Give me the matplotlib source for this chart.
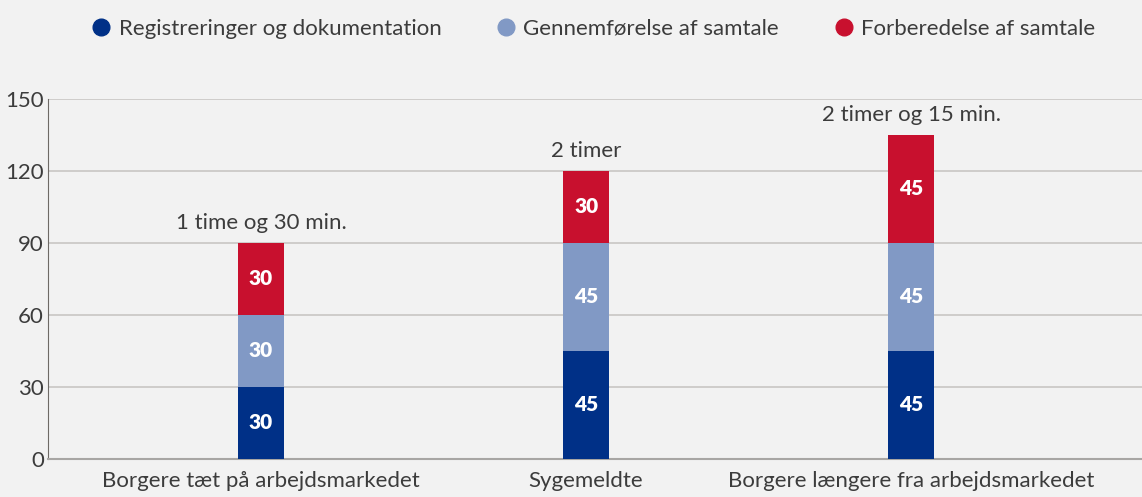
import numpy as np
import matplotlib
matplotlib.use('Agg')
import matplotlib.pyplot as plt
from matplotlib.lines import Line2D

categories = ['Borgere tæt på arbejdsmarkedet', 'Sygemeldte', 'Borgere længere fra arbejdsmarkedet']
series_names = ['Registreringer og dokumentation', 'Gennemførelse af samtale', 'Forberedelse af samtale']
registrering = [30, 45, 45]
gennemfoerelse = [30, 45, 45]
forberedelse = [30, 30, 45]
totals_text = ['1 time og 30 min.', '2 timer', '2 timer og 15 min.']
yticks = [0, 30, 60, 90, 120, 150]

colors = ['#003087', '#8199c5', '#c8102e']
bg = '#f2f2f2'

plt.rcParams['font.family'] = ['Lato', 'DejaVu Sans']

fig = plt.figure(figsize=(11.42, 4.97), dpi=100, facecolor=bg)
ax = fig.add_axes([0.042, 0.0765, 0.958, 0.7243])
ax.set_facecolor(bg)

x = np.arange(len(categories))
width = 0.1415
bottom = np.zeros(len(categories))
for vals, col in zip([registrering, gennemfoerelse, forberedelse], colors):
    bars = ax.bar(x, vals, width, bottom=bottom, color=col, zorder=3)
    for b, v, bt in zip(bars, vals, bottom):
        ax.text(b.get_x() + b.get_width() / 2, bt + v / 2, str(v), ha='center', va='center',
                color='white', fontsize=15, fontweight='heavy', zorder=4)
    bottom += np.array(vals)

for xi, tot, txt in zip(x, bottom, totals_text):
    ax.annotate(txt, (xi, tot), xytext=(0, 7), textcoords='offset points',
                ha='center', va='bottom', fontsize=16, color='#3c3c3c')

ax.set_xlim(-0.655, 2.71)
ax.set_ylim(0, 150)
ax.set_yticks(yticks)
ax.set_xticks(x)
ax.set_xticklabels(categories)
ax.tick_params(axis='both', length=0, labelsize=16, labelcolor='#3c3c3c')
ax.tick_params(axis='x', pad=9)
ax.tick_params(axis='y', pad=3)
ax.grid(axis='y', color='#c8c6c4', linewidth=1.2, zorder=0)
for s in ['top', 'right']:
    ax.spines[s].set_visible(False)
ax.spines['left'].set_color('#6e6a66')
ax.spines['bottom'].set_color('#a8a6a4')
ax.spines['bottom'].set_linewidth(1.5)

handles = [Line2D([0], [0], marker='o', linestyle='', markersize=12, markerfacecolor=c,
                  markeredgecolor=c) for c in colors]
fig.legend(handles, series_names, loc='upper center', bbox_to_anchor=(0.514, 1.003), ncol=3,
           frameon=False, fontsize=16, handletextpad=-0.2, columnspacing=1.9,
           labelcolor='#3c3c3c')

fig.savefig('out.png', dpi=100, facecolor=bg)
